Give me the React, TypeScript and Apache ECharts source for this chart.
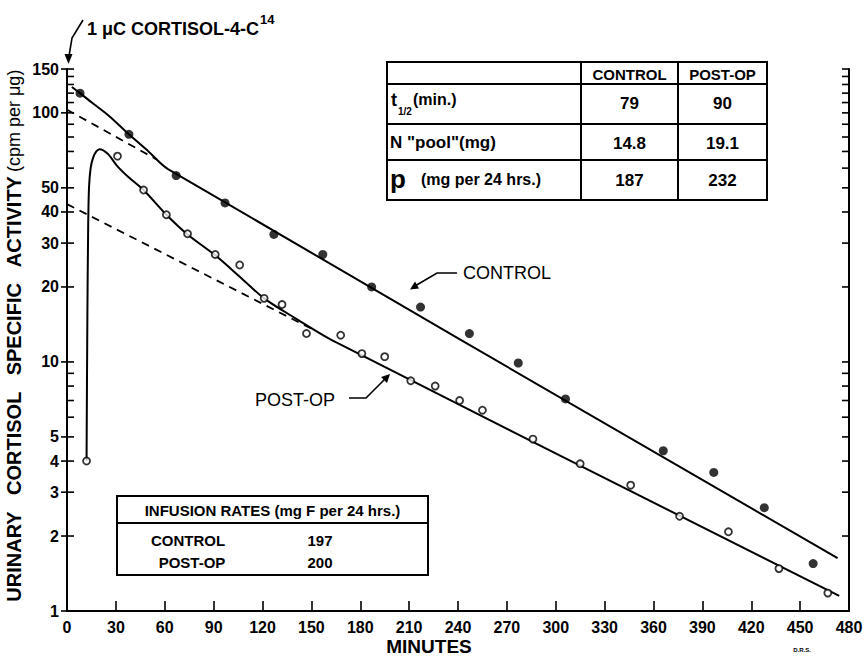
import { useEffect, useRef } from "react";
import * as echarts from "echarts";

const controlMinutes = [8, 38, 67, 97, 127, 157, 187, 217, 247, 277, 306, 366, 397, 428, 458];
const controlActivity = [120, 82, 56, 43.5, 32.5, 27, 20, 16.6, 13, 9.9, 7.1, 4.4, 3.6, 2.6, 1.55];

const postOpMinutes = [12, 31, 47, 61, 74, 91, 106, 121, 132, 147, 168, 181, 195, 211, 226, 241, 255, 286, 315, 346, 376, 406, 437, 467];
const postOpActivity = [4.0, 67, 49, 39, 32.7, 27, 24.5, 18, 17, 13, 12.8, 10.8, 10.5, 8.4, 8.0, 7.0, 6.4, 4.9, 3.9, 3.2, 2.4, 2.08, 1.48, 1.18];

const controlCurveMinutes = [3, 8, 16, 26, 38, 50, 62, 473];
const controlCurveActivity = [127, 120, 109, 97, 82, 70, 59.5, 1.63];
const controlExtrapMinutes = [0, 55];
const controlExtrapActivity = [103, 65];

const postOpCurveMinutes = [12, 12.5, 13, 13.5, 14.5, 16, 18, 20, 25, 31, 38, 47, 61, 74, 91, 106, 121, 140, 165, 474];
const postOpCurveActivity = [4, 15, 35, 50, 60, 66, 70, 71.5, 68.5, 61, 55, 49, 39, 32.5, 26.8, 22, 18.0, 15.0, 12.0, 1.15];
const postOpExtrapMinutes = [0, 150];
const postOpExtrapActivity = [43, 13.6];

const yLabelValues = [1, 2, 3, 4, 5, 10, 20, 30, 40, 50, 100, 150];
const yTickValues = [1, 2, 3, 4, 5, 6, 7, 8, 9, 10, 20, 30, 40, 50, 60, 70, 80, 90, 100, 110, 120, 130, 140, 150];

const tableHeaders = ["CONTROL", "POST-OP"];
const halfLife = ["79", "90"];
const poolSize = ["14.8", "19.1"];
const productionRate = ["187", "232"];
const infusionGroups = ["CONTROL", "POST-OP"];
const infusionRates = ["197", "200"];

const F = "'Liberation Sans', Arial, Helvetica, sans-serif";

const pairs = (xs: number[], ys: number[]) => xs.map((x, i) => [x, ys[i]]);

const txt = (x: number, y: number, text: string, size: number, opts: any = {}) => ({
  type: "text",
  x,
  y,
  silent: true,
  style: {
    text,
    fill: "#000",
    fontFamily: F,
    fontSize: size,
    fontWeight: opts.weight ?? "bold",
    align: opts.align ?? "center",
    verticalAlign: opts.va ?? "middle",
  },
});

const ln = (x1: number, y1: number, x2: number, y2: number, w = 2) => ({
  type: "line",
  silent: true,
  shape: { x1, y1, x2, y2 },
  style: { stroke: "#000", lineWidth: w },
});

export default function App() {
  const ref = useRef<HTMLDivElement>(null);
  useEffect(() => {
    if (!ref.current) return;
    const chart = echarts.init(ref.current, undefined, { renderer: "svg" });

    const tL = 387, tR = 767, tT = 62, tB = 200, c1 = 581, c2 = 678;
    const r1 = 84, r2 = 124, r3 = 160;
    const iL = 117, iR = 428, iT = 496, iM = 523, iB = 575;

    const graphics: any[] = [
      // top annotation
      {
        type: "text",
        x: 87,
        y: 29,
        silent: true,
        style: {
          text: "{a|1 μC CORTISOL-4-C}{s|14}",
          align: "left",
          verticalAlign: "middle",
          fill: "#000",
          rich: {
            a: { fontFamily: F, fontSize: 18, fontWeight: "bold", fill: "#000" },
            s: { fontFamily: F, fontSize: 13, fontWeight: "bold", fill: "#000", padding: [0, 0, 20, 1] },
          },
        },
      },
      { type: "polyline", silent: true, shape: { points: [[83, 20], [72, 38], [69, 56]] }, style: { stroke: "#000", lineWidth: 1.6, fill: null } },
      { type: "polygon", silent: true, shape: { points: [[68.5, 64], [64.5, 54], [72.5, 54]] }, style: { fill: "#000" } },

      // upper right table
      { type: "rect", silent: true, shape: { x: tL, y: tT, width: tR - tL, height: tB - tT }, style: { fill: "#fff", stroke: "#000", lineWidth: 2 } },
      ln(tL, r1, tR, r1),
      ln(tL, r2, tR, r2),
      ln(tL, r3, tR, r3),
      ln(c1, tT, c1, tB),
      ln(c2, tT, c2, tB),
      txt((c1 + c2) / 2, (tT + r1) / 2 + 1, tableHeaders[0], 15),
      txt((c2 + tR) / 2, (tT + r1) / 2 + 1, tableHeaders[1], 15),
      txt(391, 100, "t", 18, { align: "left" }),
      txt(398, 111, "1/2", 10, { align: "left" }),
      txt(413, 99, "(min.)", 16, { align: "left" }),
      txt((c1 + c2) / 2, 103, halfLife[0], 17),
      txt((c2 + tR) / 2, 103, halfLife[1], 17),
      txt(390, 142, "N \"pool\"(mg)", 17, { align: "left" }),
      txt((c1 + c2) / 2, 143, poolSize[0], 17),
      txt((c2 + tR) / 2, 143, poolSize[1], 17),
      txt(390, 179, "p", 26, { align: "left" }),
      txt(421, 179, "(mg per 24 hrs.)", 16, { align: "left" }),
      txt((c1 + c2) / 2, 180, productionRate[0], 17),
      txt((c2 + tR) / 2, 180, productionRate[1], 17),

      // infusion table
      { type: "rect", silent: true, shape: { x: iL, y: iT, width: iR - iL, height: iB - iT }, style: { fill: "#fff", stroke: "#000", lineWidth: 2 } },
      ln(iL, iM, iR, iM),
      txt((iL + iR) / 2, 510, "INFUSION RATES (mg F per 24 hrs.)", 15),
      txt(188, 540, infusionGroups[0], 15),
      txt(320, 540, infusionRates[0], 15),
      txt(192, 562, infusionGroups[1], 15),
      txt(320, 562, infusionRates[1], 15),

      // series annotations
      txt(463, 273, "CONTROL", 18, { align: "left", weight: "normal" }),
      { type: "polyline", silent: true, shape: { points: [[457, 273], [437, 273], [415, 286]] }, style: { stroke: "#000", lineWidth: 1.6, fill: null } },
      { type: "polygon", silent: true, shape: { points: [[410, 289.5], [419, 288.5], [415, 281.5]] }, style: { fill: "#000" } },
      txt(255, 400, "POST-OP", 18, { align: "left", weight: "normal" }),
      { type: "polyline", silent: true, shape: { points: [[349, 398], [366, 398], [385, 379]] }, style: { stroke: "#000", lineWidth: 1.6, fill: null } },
      { type: "polygon", silent: true, shape: { points: [[390, 374], [387, 383], [381, 377]] }, style: { fill: "#000" } },

      // axis titles
      txt(429, 646, "MINUTES", 19),
      {
        type: "text",
        x: 14,
        y: 336,
        rotation: Math.PI / 2,
        silent: true,
        style: {
          text: "{a|URINARY   CORTISOL   SPECIFIC   ACTIVITY} {b|(cpm per μg)}",
          fill: "#000",
          align: "center",
          verticalAlign: "middle",
          rich: {
            a: { fontFamily: F, fontSize: 20, fontWeight: "bold", fill: "#000" },
            b: { fontFamily: F, fontSize: 18, fontWeight: "normal", fill: "#000" },
          },
        },
      },
      txt(802, 650, "D.R.S.", 6),
    ];

    chart.setOption({
      animation: false,
      backgroundColor: "#fff",
      grid: { left: 67, right: 18, top: 69, bottom: 48, containLabel: false, outerBoundsMode: "none" },
      xAxis: {
        type: "value",
        min: 0,
        max: 480,
        interval: 30,
        splitLine: { show: false },
        axisLine: { show: true, onZero: false, lineStyle: { color: "#000", width: 2 } },
        axisTick: { show: true, inside: true, length: 10, lineStyle: { color: "#000", width: 1.6 } },
        axisLabel: { color: "#000", fontFamily: F, fontSize: 16, fontWeight: "bold", margin: 8 },
      },
      yAxis: [
        {
          type: "log",
          logBase: 10,
          min: 1,
          max: 150,
          splitLine: { show: false },
          axisLine: { show: true, onZero: false, lineStyle: { color: "#000", width: 2 } },
          axisTick: { show: false },
          axisLabel: { show: false },
        },
        {
          type: "log",
          logBase: 10,
          min: 1,
          max: 150,
          position: "right",
          splitLine: { show: false },
          axisLine: { show: true, onZero: false, lineStyle: { color: "#000", width: 2 } },
          axisTick: { show: false },
          axisLabel: { show: false },
        },
      ],
      graphic: graphics,
      series: [
        {
          type: "custom",
          coordinateSystem: "cartesian2d",
          silent: true,
          z: 5,
          data: yTickValues.map((v) => [0, v]),
          encode: { x: 0, y: 1 },
          renderItem: (_params: any, api: any) => {
            const v = api.value(1);
            const l = api.coord([0, v]);
            const r = api.coord([480, v]);
            const st = { stroke: "#000", lineWidth: 1.6 };
            const children: any[] = [
              { type: "line", shape: { x1: l[0], y1: l[1], x2: l[0] + 7, y2: l[1] }, style: st },
              { type: "line", shape: { x1: r[0] - 7, y1: r[1], x2: r[0], y2: r[1] }, style: st },
            ];
            if (yLabelValues.indexOf(v) >= 0) {
              children.push({ type: "line", shape: { x1: l[0] - 6, y1: l[1], x2: l[0], y2: l[1] }, style: st });
              children.push({
                type: "text",
                style: {
                  text: String(v),
                  x: l[0] - 8,
                  y: l[1],
                  align: "right",
                  verticalAlign: "middle",
                  textAlign: "right",
                  textVerticalAlign: "middle",
                  fill: "#000",
                  fontFamily: F,
                  fontSize: 16,
                  fontWeight: "bold",
                },
              });
            }
            return { type: "group", children };
          },
        },
        {
          name: "Control fit",
          type: "line",
          data: pairs(controlCurveMinutes, controlCurveActivity),
          smooth: 0.3,
          symbol: "none",
          lineStyle: { color: "#000", width: 2 },
          z: 3,
        },
        {
          name: "Control extrapolation",
          type: "line",
          data: pairs(controlExtrapMinutes, controlExtrapActivity),
          symbol: "none",
          lineStyle: { color: "#000", width: 1.8, type: [8, 6] },
          z: 3,
        },
        {
          name: "Post-op fit",
          type: "line",
          data: pairs(postOpCurveMinutes, postOpCurveActivity),
          smooth: 0.3,
          symbol: "none",
          lineStyle: { color: "#000", width: 2 },
          z: 3,
        },
        {
          name: "Post-op extrapolation",
          type: "line",
          data: pairs(postOpExtrapMinutes, postOpExtrapActivity),
          symbol: "none",
          lineStyle: { color: "#000", width: 1.8, type: [8, 6] },
          z: 3,
        },
        {
          name: "Control",
          type: "scatter",
          data: pairs(controlMinutes, controlActivity),
          symbol: "circle",
          symbolSize: 9,
          itemStyle: { color: "#000" },
          z: 4,
        },
        {
          name: "Post-op",
          type: "scatter",
          data: pairs(postOpMinutes, postOpActivity),
          symbol: "circle",
          symbolSize: 7,
          itemStyle: { color: "#fff", borderColor: "#000", borderWidth: 1.8 },
          z: 4,
        },
      ],
    });
    return () => chart.dispose();
  }, []);
  return (
    <div
      ref={ref}
      style={{ position: "fixed", left: 0, top: 0, width: 867, height: 659, background: "#fff" }}
    />
  );
}
